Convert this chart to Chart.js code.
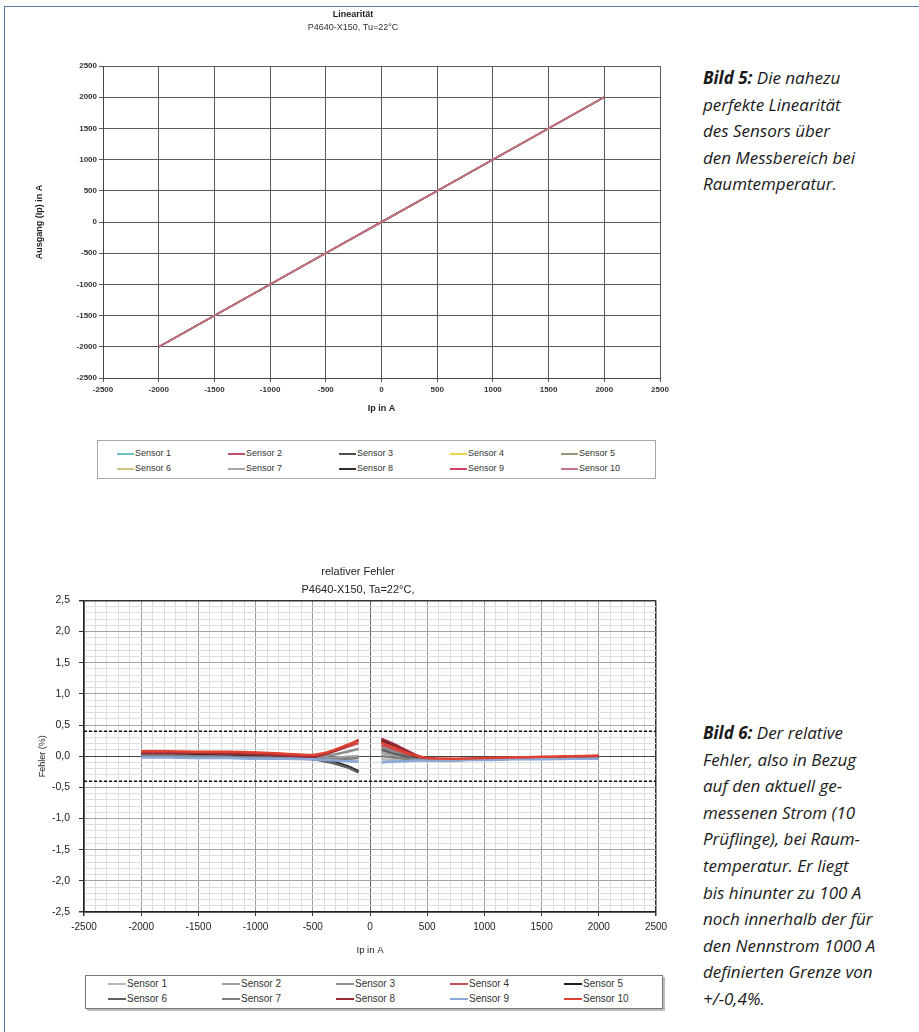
<!DOCTYPE html>
<html lang="de">
<head>
<meta charset="utf-8">
<title>Linearität und relativer Fehler</title>
<script src="https://cdn.jsdelivr.net/npm/chart.js@4.4.1/dist/chart.umd.min.js"></script>
<style>
  html, body { margin: 0; padding: 0; background: #fff; }
  body { width: 919px; height: 1032px; position: relative; overflow: hidden; font-family: 'Liberation Sans', Arial, sans-serif; }
  .frame { position: absolute; left: 4px; top: 6px; right: -4px; bottom: -4px; border-top: 1.5px solid #5a7aa6; border-left: 1.5px solid #5a7aa6; }
  .box { position: absolute; }
  .legend { position: absolute; background: #fff; }
  .legend .item { position: absolute; white-space: nowrap; color: #333; }
  .legend .swatch { position: absolute; height: 0; }
  .caption { position: absolute; left: 703px; font-family: 'Open Sans', Lato, sans-serif; font-style: italic; font-size: 17px; line-height: 26.6px; color: #1a1a1a; }
  .caption b { font-weight: 700; }
</style>
</head>
<body>
<div class="frame"></div>

<div class="box" style="left:0;top:0;width:680px;height:420px"><canvas id="linChart"></canvas></div>
<div class="legend" id="linLegend" style="left:97px;top:440px;width:557px;height:37px;border:1px solid #a8a8a8"></div>

<div class="box" style="left:0;top:540px;width:686px;height:420px"><canvas id="errChart"></canvas></div>
<div class="legend" id="errLegend" style="left:85px;top:975px;width:576px;height:32px;border:1px solid #777;box-shadow:2px 2px 0 #bdbdbd"></div>

<div class="caption" style="top:65px"><b>Bild 5:</b> Die nahezu<br>perfekte Linearität<br>des Sensors über<br>den Messbereich bei<br>Raumtemperatur.</div>
<div class="caption" style="top:720px"><b>Bild 6:</b> Der relative<br>Fehler, also in Bezug<br>auf den aktuell ge-<br>messenen Strom (10<br>Prüflinge), bei Raum-<br>temperatur. Er liegt<br>bis hinunter zu 100 A<br>noch innerhalb der für<br>den Nennstrom 1000 A<br>definierten Grenze von<br>+/-0,4%.</div>

<script>
// ---- data: Linearität ----
const sensorNames = ['Sensor 1', 'Sensor 2', 'Sensor 3', 'Sensor 4', 'Sensor 5',
                     'Sensor 6', 'Sensor 7', 'Sensor 8', 'Sensor 9', 'Sensor 10'];
const linIp = [-2000, -1500, -1000, -500, 0, 500, 1000, 1500, 2000];
const linAusgang = [-2000, -1500, -1000, -500, 0, 500, 1000, 1500, 2000];
const linColors = ['#6cc4c8', '#c8506e', '#505050', '#e8d84a', '#8c9a78',
                   '#d0c480', '#a8a8a8', '#303030', '#d04060', '#c47484'];

// ---- data: relativer Fehler (%), null = no measurement around 0 A ----
const errIp = [-2000, -1750, -1500, -1250, -1000, -750, -500, -400, -300, -200, -100, 0,
               100, 200, 300, 400, 500, 750, 1000, 1250, 1500, 1750, 2000];
const errSensor1  = [0.00, 0.00, -0.01, -0.01, -0.02, -0.03, -0.04, -0.05, -0.06, -0.07, -0.08, null, -0.05, -0.06, -0.07, -0.07, -0.07, -0.06, -0.05, -0.04, -0.04, -0.03, -0.03];
const errSensor2  = [0.02, 0.02, 0.01, 0.01, 0.00, -0.01, -0.03, -0.03, -0.02, -0.01, 0.00, null, 0.05, 0.02, -0.02, -0.05, -0.06, -0.05, -0.04, -0.03, -0.03, -0.02, -0.02];
const errSensor3  = [0.02, 0.02, 0.01, 0.01, 0.00, -0.01, -0.02, 0.00, 0.03, 0.07, 0.12, null, 0.14, 0.09, 0.03, -0.02, -0.05, -0.05, -0.04, -0.03, -0.02, -0.02, -0.01];
const errSensor4  = [0.06, 0.06, 0.06, 0.05, 0.04, 0.03, 0.01, 0.04, 0.09, 0.15, 0.21, null, 0.18, 0.12, 0.05, -0.01, -0.05, -0.05, -0.04, -0.03, -0.02, -0.01, 0.00];
const errSensor5  = [0.03, 0.03, 0.02, 0.01, 0.00, -0.02, -0.04, -0.06, -0.10, -0.16, -0.24, null, 0.25, 0.17, 0.08, 0.00, -0.05, -0.06, -0.05, -0.04, -0.03, -0.02, -0.01];
const errSensor6  = [0.01, 0.01, 0.00, -0.01, -0.02, -0.03, -0.05, -0.08, -0.12, -0.18, -0.26, null, 0.10, 0.05, 0.00, -0.04, -0.06, -0.06, -0.05, -0.04, -0.03, -0.03, -0.02];
const errSensor7  = [0.01, 0.01, 0.00, -0.01, -0.02, -0.03, -0.04, -0.05, -0.05, -0.04, -0.03, null, 0.00, -0.02, -0.04, -0.05, -0.06, -0.05, -0.04, -0.04, -0.03, -0.03, -0.02];
const errSensor8  = [0.05, 0.05, 0.05, 0.04, 0.03, 0.01, -0.01, 0.03, 0.09, 0.17, 0.26, null, 0.28, 0.20, 0.11, 0.02, -0.04, -0.05, -0.04, -0.03, -0.02, -0.01, 0.00];
const errSensor9  = [-0.02, -0.02, -0.03, -0.03, -0.04, -0.04, -0.05, -0.06, -0.07, -0.08, -0.09, null, -0.10, -0.09, -0.08, -0.07, -0.07, -0.06, -0.06, -0.05, -0.05, -0.04, -0.04];
const errSensor10 = [0.08, 0.08, 0.07, 0.07, 0.06, 0.04, 0.02, 0.05, 0.11, 0.18, 0.25, null, 0.22, 0.15, 0.07, 0.01, -0.03, -0.04, -0.03, -0.02, -0.01, 0.00, 0.01];
const errValues = [errSensor1, errSensor2, errSensor3, errSensor4, errSensor5,
                   errSensor6, errSensor7, errSensor8, errSensor9, errSensor10];
const errColors = ['#b8b8b8', '#a0a0a0', '#8e8e8e', '#c8505a', '#202020',
                   '#606060', '#808080', '#9a2a3a', '#8aa8d8', '#e04030'];

// Grenze +/-0,4 %
const limitIp = [-2500, 2500];
const limitUpper = [0.4, 0.4];
const limitLower = [-0.4, -0.4];

Chart.defaults.font.family = "'Liberation Sans', Arial, sans-serif";
Chart.defaults.color = '#222';

function toPoints(xs, ys) {
  return xs.map((x, i) => ({ x: x, y: ys[i] }));
}

// legend as html, 5 columns x 2 rows
function buildLegend(el, names, colors, opts) {
  names.forEach((name, i) => {
    const col = i % 5;
    const row = Math.floor(i / 5);
    const item = document.createElement('div');
    item.className = 'item';
    item.style.left = (opts.x0 + col * opts.pitch) + 'px';
    item.style.top = (opts.y0 + row * opts.rowH) + 'px';
    item.style.fontSize = opts.fontSize + 'px';
    item.style.lineHeight = opts.fontSize + 'px';
    const sw = document.createElement('span');
    sw.className = 'swatch';
    sw.style.left = '0px';
    sw.style.top = Math.round(opts.fontSize / 2 - 1) + 'px';
    sw.style.width = opts.lineW + 'px';
    sw.style.borderTop = '2px solid ' + colors[i];
    const txt = document.createElement('span');
    txt.style.marginLeft = (opts.lineW + 1) + 'px';
    txt.textContent = name;
    item.appendChild(sw);
    item.appendChild(txt);
    el.appendChild(item);
  });
}

// ---------- Linearität ----------
const linDatasets = sensorNames.map((name, i) => ({
  label: name,
  data: toPoints(linIp, linAusgang),
  borderColor: linColors[i],
  backgroundColor: linColors[i],
  borderWidth: 1.5,
  pointRadius: 0,
  fill: false,
  order: 10 - i
}));

new Chart(document.getElementById('linChart'), {
  type: 'line',
  data: { datasets: linDatasets },
  options: {
    responsive: true,
    maintainAspectRatio: false,
    animation: false,
    layout: { padding: { left: 26, right: 0, top: 0, bottom: 5.6 } },
    plugins: {
      legend: { display: false },
      tooltip: { enabled: false },
      title: {
        display: true,
        text: 'Linearität',
        color: '#222',
        font: { size: 9, weight: 'bold' },
        padding: { top: 9, bottom: 0 }
      },
      subtitle: {
        display: true,
        text: 'P4640-X150, Tu=22°C',
        color: '#333',
        font: { size: 9 },
        padding: { top: 2, bottom: 33.4 }
      }
    },
    scales: {
      x: {
        type: 'linear',
        min: -2500,
        max: 2500,
        afterFit: s => { s.height = 36.4; },
        ticks: {
          stepSize: 500,
          maxTicksLimit: 20,
          padding: 3,
          font: { size: 8, weight: 'bold' },
          color: '#333',
          callback: v => String(v)
        },
        grid: { color: '#5a5a5a', lineWidth: 1, tickLength: 4, tickColor: '#5a5a5a' },
        border: { display: true, color: '#444', width: 1 },
        title: { display: true, text: 'Ip in A', font: { size: 9, weight: 'bold' }, color: '#222', padding: 0 }
      },
      y: {
        type: 'linear',
        min: -2500,
        max: 2500,
        afterFit: s => { s.width = 77; },
        ticks: {
          stepSize: 500,
          maxTicksLimit: 20,
          padding: 2,
          font: { size: 8, weight: 'bold' },
          color: '#333',
          callback: v => String(v)
        },
        grid: { color: '#5a5a5a', lineWidth: 1, tickLength: 4, tickColor: '#5a5a5a' },
        border: { display: true, color: '#444', width: 1 },
        title: { display: true, text: 'Ausgang (Ip) in A', font: { size: 9, weight: 'bold' }, color: '#222', padding: { top: 8.6, bottom: 0 } }
      },
      yR: {
        type: 'linear',
        position: 'right',
        display: true,
        afterFit: s => { s.width = 20; },
        ticks: { display: false },
        grid: { display: false },
        border: { display: false }
      }
    }
  }
});

buildLegend(document.getElementById('linLegend'), sensorNames, linColors,
  { x0: 19, y0: 8, pitch: 111, rowH: 15, fontSize: 9, lineW: 17 });

// ---------- relativer Fehler ----------
function xGridColor(ctx) {
  const v = Math.round(ctx.tick.value);
  if (v === -2500 || v === 2500) return '#333';
  if (v === 0) return '#666';
  return v % 500 === 0 ? '#9c9c9c' : '#dcdcdc';
}
function yGridColor(ctx) {
  const r = Math.round(ctx.tick.value * 10);
  if (r === 25 || r === -25) return '#333';
  if (r === 0) return '#444';
  return r % 5 === 0 ? '#a4a4a4' : '#dedede';
}

const errDatasets = sensorNames.map((name, i) => ({
  label: name,
  data: toPoints(errIp, errValues[i]),
  borderColor: errColors[i],
  backgroundColor: errColors[i],
  borderWidth: 2.5,
  pointRadius: 0,
  tension: 0.3,
  spanGaps: false,
  fill: false,
  order: 10 - i
}));
errDatasets.push({
  label: 'Grenze +0,4 %',
  data: toPoints(limitIp, limitUpper),
  borderColor: '#111',
  borderWidth: 1.5,
  borderDash: [3, 2],
  pointRadius: 0,
  order: 0
});
errDatasets.push({
  label: 'Grenze -0,4 %',
  data: toPoints(limitIp, limitLower),
  borderColor: '#111',
  borderWidth: 1.5,
  borderDash: [3, 2],
  pointRadius: 0,
  order: 0
});

new Chart(document.getElementById('errChart'), {
  type: 'line',
  data: { datasets: errDatasets },
  options: {
    responsive: true,
    maintainAspectRatio: false,
    animation: false,
    layout: { padding: { left: 30, right: 0, top: 0, bottom: 4.3 } },
    plugins: {
      legend: { display: false },
      tooltip: { enabled: false },
      title: {
        display: true,
        text: 'relativer Fehler',
        color: '#222',
        font: { size: 11, weight: 'normal' },
        padding: { top: 25, bottom: 0 }
      },
      subtitle: {
        display: true,
        text: 'P4640-X150, Ta=22°C,',
        color: '#222',
        font: { size: 11 },
        padding: { top: 5, bottom: 4 }
      }
    },
    scales: {
      x: {
        type: 'linear',
        min: -2500,
        max: 2500,
        afterFit: s => { s.height = 43.7; },
        ticks: {
          stepSize: 100,
          maxTicksLimit: 100,
          autoSkip: false,
          maxRotation: 0,
          padding: 5,
          font: { size: 10 },
          color: '#222',
          callback: v => (Math.round(v) % 500 === 0 ? String(Math.round(v)) : '')
        },
        grid: {
          color: xGridColor,
          lineWidth: ctx => (Math.abs(Math.round(ctx.tick.value)) === 2500 ? 1.5 : 1),
          tickLength: 4,
          tickColor: ctx => (Math.round(ctx.tick.value) % 500 === 0 ? '#333' : 'rgba(0,0,0,0)')
        },
        border: { display: true, color: '#222', width: 1.5 },
        title: { display: true, text: 'Ip in A', font: { size: 9.5 }, color: '#222', padding: 0 }
      },
      y: {
        type: 'linear',
        min: -2.5,
        max: 2.5,
        afterFit: s => { s.width = 54; },
        ticks: {
          stepSize: 0.1,
          maxTicksLimit: 100,
          autoSkip: false,
          padding: 9,
          font: { size: 10.5 },
          color: '#222',
          callback: v => {
            const r = Math.round(v * 10);
            return r % 5 === 0 ? (r / 10).toFixed(1).replace('.', ',') : '';
          }
        },
        grid: {
          color: yGridColor,
          lineWidth: ctx => (Math.abs(Math.round(ctx.tick.value * 10)) === 25 ? 1.5 : 1),
          tickLength: 5,
          tickColor: ctx => (Math.round(ctx.tick.value * 10) % 5 === 0 ? '#333' : 'rgba(0,0,0,0)')
        },
        border: { display: true, color: '#222', width: 1.5 },
        title: { display: true, text: 'Fehler (%)', font: { size: 9 }, color: '#222', padding: { top: 7.6, bottom: 0 } }
      },
      yR: {
        type: 'linear',
        position: 'right',
        display: true,
        afterFit: s => { s.width = 30; },
        ticks: { display: false },
        grid: { display: false },
        border: { display: false }
      }
    }
  }
});

buildLegend(document.getElementById('errLegend'), sensorNames, errColors,
  { x0: 22, y0: 3, pitch: 114, rowH: 15, fontSize: 10, lineW: 18 });
</script>
</body>
</html>
